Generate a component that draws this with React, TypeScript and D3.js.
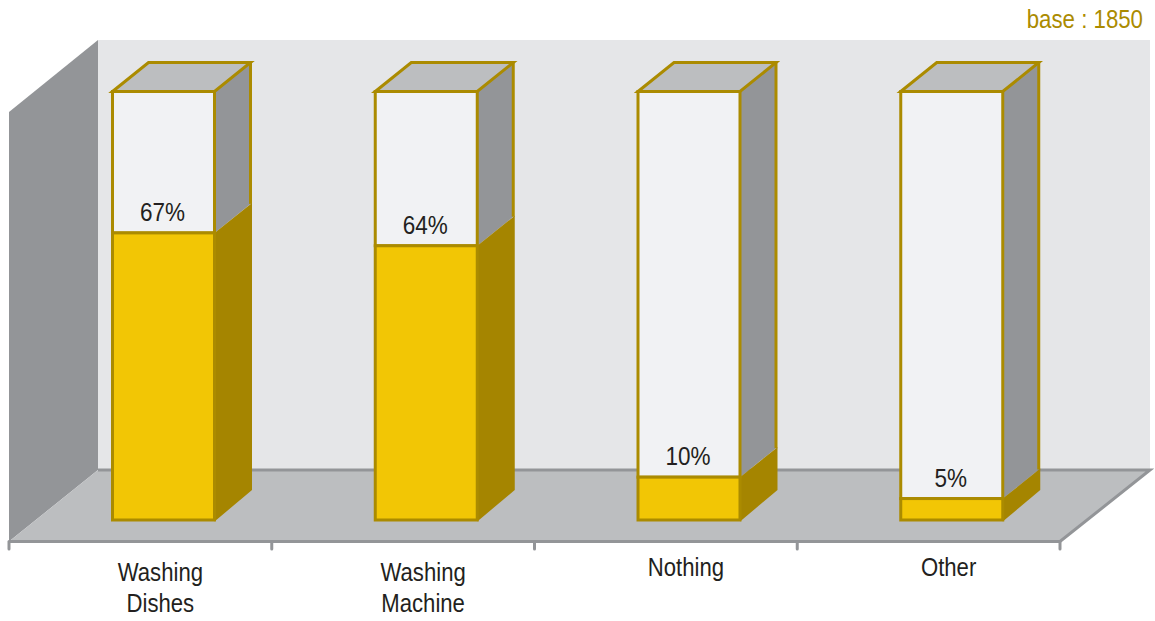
import React from "react";
import * as d3 from "d3";

const categories = ["Washing Dishes", "Washing Machine", "Nothing", "Other"];
const categoryLines = [["Washing", "Dishes"], ["Washing", "Machine"], ["Nothing"], ["Other"]];
const shares = [67, 64, 10, 5];
const percentLabels = ["67%", "64%", "10%", "5%"];
const baseNote = "base : 1850";

const WIDTH = 1155;
const HEIGHT = 621;

// Oblique projection of the chart box
const DEPTH_X = 36;
const DEPTH_Y = 29;
const FLOOR_LEFT = 9;
const FLOOR_RIGHT = 1060;
const FLOOR_FRONT = 541.5;
const WALL_LEFT = 98;
const WALL_RIGHT = 1150;
const WALL_TOP = 40;
const WALL_BOTTOM = 470;
const BAR_WIDTH = 102;
const BAR_OFFSET = 103.5;

const GOLD = "#ab8b00";
const GOLD_DARK = "#a58500";
const YELLOW = "#f2c605";
const WHITE = "#f1f2f4";
const GREY_DARK = "#939598";
const GREY_MID = "#bcbec0";
const GREY_LIGHT = "#e5e6e8";
const INK = "#231f20";

const FONT = "'Liberation Sans', Arial, sans-serif";

const x = d3.scaleBand<string>().domain(categories).range([FLOOR_LEFT, FLOOR_RIGHT]);
const y = d3.scaleLinear().domain([0, 100]).range([520, 91.5]);

const pts = (p: [number, number][]) => p.map((q) => q.join(",")).join(" ");

function Bar({ category, value, label }: { category: string; value: number; label: string }) {
  const x0 = (x(category) as number) + BAR_OFFSET;
  const x1 = x0 + BAR_WIDTH;
  const top = y(100);
  const bottom = y(0);
  const level = y(value);
  const edge = x1 + DEPTH_X + 1.5;
  return (
    <g>
      {/* side face, empty part then filled part */}
      <polygon
        points={pts([[x1, top], [x1 + DEPTH_X, top - DEPTH_Y], [x1 + DEPTH_X, level - DEPTH_Y], [x1, level]])}
        fill={GREY_DARK}
      />
      <line x1={x1 + DEPTH_X} x2={x1 + DEPTH_X} y1={top - DEPTH_Y} y2={level - DEPTH_Y} stroke={GOLD} strokeWidth={3} />
      <polygon
        points={pts([[x1, level], [edge, level - DEPTH_Y - 1], [edge, bottom - DEPTH_Y - 1], [x1, bottom + 1.5]])}
        fill={GOLD_DARK}
      />
      {/* top face */}
      <polygon
        points={pts([[x0, top], [x0 + DEPTH_X, top - DEPTH_Y], [x1 + DEPTH_X, top - DEPTH_Y], [x1, top]])}
        fill={GREY_MID}
        stroke={GOLD}
        strokeWidth={3}
      />
      {/* front face */}
      <rect x={x0} y={top} width={BAR_WIDTH} height={level - top} fill={WHITE} stroke={GOLD} strokeWidth={3} />
      <rect x={x0} y={level} width={BAR_WIDTH} height={bottom - level} fill={YELLOW} stroke={GOLD} strokeWidth={3} />
      <text
        transform={`translate(${x0 + BAR_WIDTH / 2 - 1},${level - 12}) scale(0.9,1)`}
        textAnchor="middle"
        fontFamily={FONT}
        fontSize={25}
        fill={INK}
      >
        {label}
      </text>
    </g>
  );
}

export default function App() {
  const ticks = [...categories.map((c) => x(c) as number), FLOOR_RIGHT];
  return (
    <svg
      width={WIDTH}
      height={HEIGHT}
      viewBox={`0 0 ${WIDTH} ${HEIGHT}`}
      style={{ position: "absolute", left: 0, top: 0, display: "block", background: "#ffffff" }}
    >
      {/* back wall, side wall and floor */}
      <rect x={WALL_LEFT} y={WALL_TOP} width={WALL_RIGHT - WALL_LEFT} height={WALL_BOTTOM - WALL_TOP} fill={GREY_LIGHT} />
      <polygon
        points={pts([[FLOOR_LEFT, 112], [WALL_LEFT, WALL_TOP], [WALL_LEFT, WALL_BOTTOM], [FLOOR_LEFT, FLOOR_FRONT]])}
        fill={GREY_DARK}
      />
      <polygon
        points={pts([[WALL_LEFT, WALL_BOTTOM], [WALL_RIGHT, WALL_BOTTOM], [FLOOR_RIGHT, FLOOR_FRONT], [FLOOR_LEFT, FLOOR_FRONT]])}
        fill={GREY_MID}
      />
      <polyline
        points={pts([[WALL_LEFT, WALL_BOTTOM], [WALL_RIGHT, WALL_BOTTOM], [FLOOR_RIGHT, FLOOR_FRONT], [FLOOR_LEFT, FLOOR_FRONT]])}
        fill="none"
        stroke={GREY_DARK}
        strokeWidth={3}
      />
      {ticks.map((t, i) => (
        <line key={i} x1={t} x2={t} y1={FLOOR_FRONT} y2={549} stroke={GREY_DARK} strokeWidth={3} strokeLinecap="round" />
      ))}

      {categories.map((c, i) => (
        <Bar key={c} category={c} value={shares[i]} label={percentLabels[i]} />
      ))}

      {/* category labels beneath the floor */}
      {categories.map((c, i) => {
        const lines = categoryLines[i];
        const cx = (x(c) as number) + x.bandwidth() / 2 + 20;
        const firstBaseline = lines.length > 1 ? 581 : 576;
        return lines.map((line, j) => (
          <text
            key={line + j}
            transform={`translate(${cx},${firstBaseline + j * 31}) scale(0.885,1)`}
            textAnchor="middle"
            fontFamily={FONT}
            fontSize={25}
            fill={INK}
          >
            {line}
          </text>
        ));
      })}

      <text
        transform={`translate(1143,28) scale(0.89,1)`}
        textAnchor="end"
        fontFamily={FONT}
        fontSize={25}
        fill={GOLD}
      >
        {baseNote}
      </text>
    </svg>
  );
}
